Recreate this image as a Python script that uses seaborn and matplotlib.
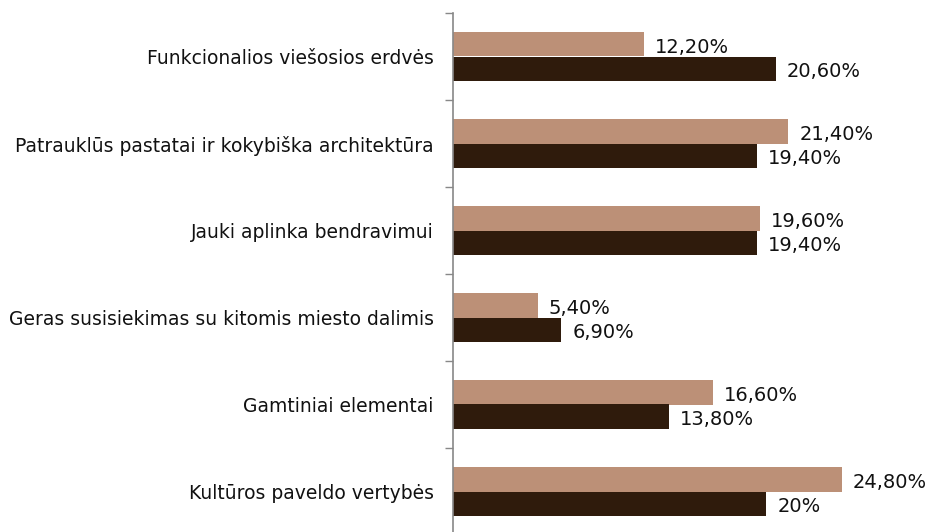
import pandas as pd
import numpy as np
import matplotlib.pyplot as plt
import seaborn as sns

# chart values
categories = [
    "Funkcionalios viešosios erdvės",
    "Patrauklūs pastatai ir kokybiška architektūra",
    "Jauki aplinka bendravimui",
    "Geras susisiekimas su kitomis miesto dalimis",
    "Gamtiniai elementai",
    "Kultūros paveldo vertybės",
]
series_names = ["A", "B"]
values_a = [12.2, 21.4, 19.6, 5.4, 16.6, 24.8]
values_b = [20.6, 19.4, 19.4, 6.9, 13.8, 20.0]

df = pd.DataFrame({
    "category": categories * 2,
    "series": [series_names[0]] * 6 + [series_names[1]] * 6,
    "value": values_a + values_b,
})

sns.set_style("white")
plt.rcParams['font.family'] = ['DejaVu Sans']

fig = plt.figure(figsize=(9.3, 5.32), dpi=100)
W, H = 930, 532
ax = fig.add_axes([453 / W, -3 / H, 470 / W, 522 / H])

sns.barplot(data=df, y="category", x="value", hue="series", orient="h",
            palette=["#BC9077", "#2F1B0C"], width=0.56, legend=False, ax=ax,
            saturation=1, linewidth=0)

ax.set_xlim(0, 30)
ax.set_ylim(5.5, -0.5)


def fmt(v):
    if float(v).is_integer():
        return f"{int(v)}%"
    return f"{v:.2f}".replace(".", ",") + "%"


# value labels, nudged a bit below the bar centre like the original
for cont in ax.containers:
    texts = ax.bar_label(cont, labels=[fmt(b.get_width()) for b in cont],
                         padding=8, fontsize=14, color="#111111")
    for t in texts:
        t.set_y(t.get_position()[1])
        t.xyann = (t.xyann[0], -2)

# category boundary ticks and labels
ax.set_yticks(np.arange(-0.5, 6.0, 1.0))
ax.set_yticklabels([])
ax.set_yticks(np.arange(6), minor=True)
ax.set_yticklabels(categories, minor=True, fontsize=13.5, color="#111111")
ax.tick_params(axis="y", which="major", left=True, length=6, width=1, color="#888888")
ax.tick_params(axis="y", which="minor", left=False, length=0, pad=14)
ax.set_xticks([])
ax.set_xlabel("")
ax.set_ylabel("")

for s in ["top", "right", "bottom"]:
    ax.spines[s].set_visible(False)
ax.spines["left"].set_color("#888888")
ax.spines["left"].set_linewidth(1.2)

fig.savefig("out.png", dpi=100)
